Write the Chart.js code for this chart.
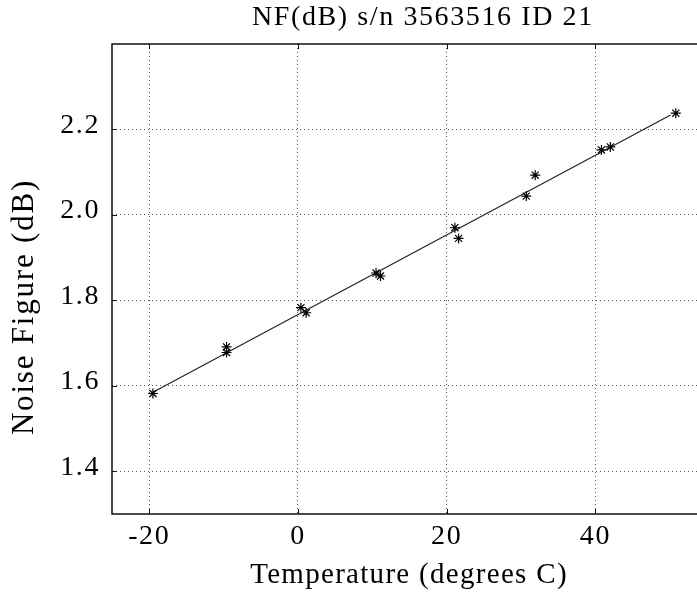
<!DOCTYPE html>
<html>
<head>
<meta charset="utf-8">
<script src="https://cdn.jsdelivr.net/npm/chart.js@4/dist/chart.umd.min.js"></script>
<style>
  html, body { margin: 0; padding: 0; background: #fff; overflow: hidden; }
  #wrap { width: 697px; height: 596px; overflow: hidden; }
</style>
</head>
<body>
<div id="wrap"><canvas id="nf-chart" width="740" height="596"></canvas></div>
<script>
const chartTitle = 'NF(dB) s/n 3563516 ID 21';
const xTitle = 'Temperature (degrees C)';
const yTitle = 'Noise Figure (dB)';

// measured points
const temps = [-19.5, -9.6, -9.6, 0.4, 1.1, 10.5, 11.1, 21.1, 21.6, 30.7, 31.9, 40.8, 42.0, 50.8];
const noiseFigure = [1.582, 1.691, 1.678, 1.783, 1.771, 1.864, 1.857, 1.970, 1.945, 2.044, 2.093, 2.152, 2.159, 2.238];

// straight line fit
const fitTemps = [-19.5, 50.1];
const fitNoiseFigure = [1.585, 2.234];

const xTicks = [-20, 0, 20, 40];
const yTicks = [1.4, 1.6, 1.8, 2.0, 2.2];
const xRange = [-25, 58.6];
const yRange = [1.3, 2.4];

const serif = '"Liberation Serif", "Times New Roman", serif';
const ink = '#000';

// times-like text in the reference is spaced out a little
const spacing = {
    id: 'spacing',
    beforeUpdate(chart) { chart.ctx.letterSpacing = '1.6px'; },
    beforeDraw(chart) { chart.ctx.letterSpacing = '1.6px'; },
};

const frame = {
    id: 'frame',
    afterDraw(chart) {
        const { ctx, chartArea: a, scales } = chart;
        ctx.save();
        ctx.strokeStyle = '#111';
        ctx.lineWidth = 1.5;
        ctx.strokeRect(a.left, a.top, a.right - a.left, a.bottom - a.top);

        // matlab style inward ticks
        ctx.lineWidth = 1;
        ctx.beginPath();
        xTicks.forEach(v => {
            const px = Math.round(scales.x.getPixelForValue(v)) + 0.5;
            ctx.moveTo(px, a.bottom); ctx.lineTo(px, a.bottom - 5);
            ctx.moveTo(px, a.top); ctx.lineTo(px, a.top + 5);
        });
        yTicks.forEach(v => {
            const py = Math.round(scales.y.getPixelForValue(v)) + 0.5;
            ctx.moveTo(a.left, py); ctx.lineTo(a.left + 5, py);
            ctx.moveTo(a.right, py); ctx.lineTo(a.right - 5, py);
        });
        ctx.stroke();

        // axis titles
        ctx.fillStyle = ink;
        ctx.textBaseline = 'alphabetic';
        ctx.textAlign = 'center';
        ctx.letterSpacing = '1.3px';
        ctx.font = '29px ' + serif;
        ctx.fillText(xTitle, 409, 583);

        ctx.letterSpacing = '1.8px';
        ctx.font = '31px ' + serif;
        ctx.translate(33, 307);
        ctx.rotate(-Math.PI / 2);
        ctx.fillText(yTitle, 0, 0);
        ctx.restore();
    },
};

new Chart(document.getElementById('nf-chart'), {
    type: 'scatter',
    data: {
        datasets: [
            {
                label: 'NF',
                data: temps.map((t, i) => ({ x: t, y: noiseFigure[i] })),
                pointStyle: 'star',
                pointRadius: 5,
                borderColor: ink,
                backgroundColor: ink,
                borderWidth: 1.2,
                showLine: false,
            },
            {
                label: 'fit',
                data: fitTemps.map((t, i) => ({ x: t, y: fitNoiseFigure[i] })),
                showLine: true,
                pointRadius: 0,
                borderColor: '#222',
                borderWidth: 1.2,
                fill: false,
            },
        ],
    },
    options: {
        responsive: false,
        animation: false,
        layout: { padding: { left: 0, right: 5, top: 0, bottom: 0 } },
        plugins: {
            legend: { display: false },
            tooltip: { enabled: false },
            title: {
                display: true,
                text: chartTitle,
                fullSize: false,
                color: ink,
                font: { family: serif, size: 28, weight: 'normal', lineHeight: 1.2 },
                padding: { top: 1.2, bottom: 9.2 },
            },
        },
        scales: {
            x: {
                type: 'linear',
                min: xRange[0],
                max: xRange[1],
                afterBuildTicks: s => { s.ticks = xTicks.map(v => ({ value: v })); },
                afterFit: s => { s.height = 82; },
                grid: { color: '#555', lineWidth: 1, drawTicks: false },
                border: { display: false, dash: [1, 3] },
                ticks: {
                    padding: 6,
                    maxRotation: 0,
                    color: ink,
                    font: { family: serif, size: 28 },
                    callback: v => String(v),
                },
            },
            y: {
                type: 'linear',
                min: yRange[0],
                max: yRange[1],
                afterBuildTicks: s => { s.ticks = yTicks.map(v => ({ value: v })); },
                afterFit: s => { s.width = 112; },
                grid: { color: '#555', lineWidth: 1, drawTicks: false },
                border: { display: false, dash: [1, 3] },
                ticks: {
                    padding: 12,
                    labelOffset: -4,
                    color: ink,
                    font: { family: serif, size: 28 },
                    callback: v => v.toFixed(1),
                },
            },
        },
    },
    plugins: [spacing, frame],
});
</script>
</body>
</html>
